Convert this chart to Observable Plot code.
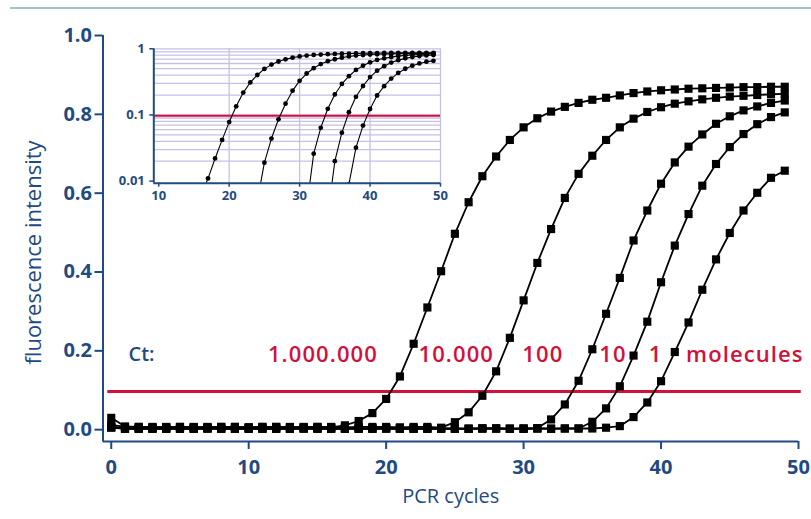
<!DOCTYPE html>
<html><head><meta charset="utf-8">
<script src="https://cdn.jsdelivr.net/npm/d3@7"></script>
<script src="https://cdn.jsdelivr.net/npm/@observablehq/plot@0.6"></script>
<style>
body{margin:0;background:#fff;}
#wrap{position:relative;width:811px;height:519px;overflow:hidden;background:#fff;}
#main{position:absolute;left:0;top:0;}
#inset{position:absolute;left:100px;top:30px;}
#topline{position:absolute;left:10px;top:7px;width:801px;height:2px;background:#9fc6ca;}
</style></head><body>
<div id="wrap"><div id="main"></div><div id="inset"></div><div id="topline"></div></div>
<script>
// PCR cycle numbers
const cycles = [0,1,2,3,4,5,6,7,8,9,10,11,12,13,14,15,16,17,18,19,20,21,22,23,24,25,26,27,28,29,30,31,32,33,34,35,36,37,38,39,40,41,42,43,44,45,46,47,48,49];
const seriesNames = ["1.000.000","10.000","100","10","1"];
// fluorescence intensity per cycle, one array per starting amount
const curve1 = [0.030,0.008,0.007,0.007,0.006,0.007,0.007,0.006,0.007,0.007,0.006,0.007,0.007,0.007,0.006,0.007,0.006,
  0.011,0.022,0.042,0.078,0.135,0.218,0.310,0.402,0.497,0.577,0.643,0.693,0.735,0.767,0.790,0.807,0.819,0.829,0.837,
  0.842,0.848,0.854,0.858,0.861,0.863,0.865,0.866,0.867,0.868,0.869,0.869,0.870,0.870];
const curve2 = [0.012,0.007,0.007,0.006,0.007,0.007,0.006,0.007,0.007,0.007,0.006,0.007,0.007,0.006,0.007,0.007,0.007,
  0.006,0.007,0.007,0.007,0.006,0.007,0.007,0.005,
  0.019,0.044,0.086,0.148,0.233,0.328,0.423,0.509,0.588,0.649,0.695,0.735,0.767,0.789,0.806,0.818,0.827,0.833,0.838,
  0.842,0.845,0.847,0.849,0.851,0.852];
const curve3 = [0.008,0.003,0.003,0.002,0.003,0.003,0.002,0.003,0.003,0.003,0.002,0.003,0.003,0.002,0.003,0.003,0.003,
  0.002,0.003,0.003,0.003,0.002,0.003,0.003,0.002,0.003,0.002,0.003,0.003,0.002,0.003,0.004,
  0.026,0.064,0.124,0.204,0.294,0.385,0.480,0.556,0.624,0.678,0.718,0.749,0.776,0.795,0.810,0.820,0.829,0.835];
const curve4 = [0.006,0.003,0.002,0.003,0.003,0.002,0.003,0.003,0.003,0.002,0.003,0.003,0.002,0.003,0.003,0.003,0.002,
  0.003,0.003,0.002,0.003,0.003,0.003,0.002,0.003,0.003,0.002,0.003,0.003,0.003,0.002,0.003,0.003,0.003,0.003,
  0.020,0.054,0.110,0.188,0.274,0.374,0.467,0.547,0.619,0.674,0.717,0.750,0.775,0.793,0.805];
const curve5 = [0.005,0.002,0.003,0.003,0.002,0.003,0.003,0.003,0.002,0.003,0.003,0.002,0.003,0.003,0.003,0.002,0.003,
  0.003,0.002,0.003,0.003,0.003,0.002,0.003,0.003,0.002,0.003,0.003,0.003,0.002,0.003,0.003,0.002,0.003,0.003,0.003,
  0.005,0.009,0.032,0.069,0.123,0.197,0.272,0.355,0.432,0.499,0.556,0.601,0.639,0.657];
const threshold = [0.097];
const labelTexts = ["1.000.000","10.000","100","10","1","molecules"];
const labelCycles = [15.4, 25.1, 31.4, 36.5, 39.6, 46.1];
const ctText = ["Ct:"];
const ctCycle = [2.2];
const yLabelText = ["fluorescence intensity"];
const xLabelText = ["PCR cycles"];
const yTicks = [0, 0.2, 0.4, 0.6, 0.8, 1.0];
const xTicks = [0, 10, 20, 30, 40, 50];
const insetXTicks = [10, 20, 30, 40, 50];
const insetYTicks = [0.01, 0.1, 1];
const insetGridY = [0.02,0.03,0.04,0.05,0.06,0.07,0.08,0.09,0.1,0.2,0.3,0.4,0.5,0.6,0.7,0.8,0.9,1];
const insetGridX = [20, 30, 40, 50];

const curves = [curve1, curve2, curve3, curve4, curve5];
const data = [];
curves.forEach((arr, s) => arr.forEach((v, i) => data.push({cycle: cycles[i], value: v, series: seriesNames[s]})));

const NAVY = "#1f4a82", RED = "#d2103c", FONT = "'Open Sans', sans-serif";
const labelY = 0.19;

const main = Plot.plot({
  width: 811, height: 519,
  marginLeft: 102.5, marginRight: 13, marginTop: 35, marginBottom: 78,
  style: {fontFamily: FONT, background: "transparent", overflow: "visible"},
  x: {domain: [-0.6, 50]},
  y: {domain: [-0.03, 1.0]},
  marks: [
    Plot.ruleY(threshold, {x1: -0.25, x2: 50.2, stroke: RED, strokeWidth: 3}),
    Plot.line(data, {x: "cycle", y: "value", z: "series", stroke: "#000", strokeWidth: 1.8}),
    Plot.dot(data, {x: "cycle", y: "value", symbol: "square", r: 4.6, fill: "#000"}),
    Plot.ruleX([-0.6], {y1: -0.03, y2: 1.0, stroke: NAVY, strokeWidth: 2}),
    Plot.ruleY([-0.03], {x1: -0.6, x2: 50, stroke: NAVY, strokeWidth: 2}),
    Plot.axisY({ticks: yTicks, tickFormat: d3.format(".1f"), tickSize: 8, tickPadding: 3, fontSize: 20, fontWeight: 700, color: NAVY, strokeWidth: 2, label: null}),
    Plot.axisX({ticks: xTicks, tickSize: 8, tickPadding: 10, fontSize: 20, fontWeight: 700, color: NAVY, strokeWidth: 2, label: null}),
    Plot.text(yLabelText, {frameAnchor: "left", textAnchor: "middle", dx: -69, dy: 14, rotate: -90, fontSize: 22, fontWeight: 500, fill: NAVY}),
    Plot.text(xLabelText, {frameAnchor: "bottom", textAnchor: "middle", dy: 61, fontSize: 20, fontWeight: 500, fill: NAVY}),
    Plot.text(ctText, {x: ctCycle, y: [labelY], fontSize: 20, fontWeight: 600, fill: NAVY}),
    Plot.text(labelTexts, {x: labelCycles, y: labelTexts.map(() => labelY), fontSize: 22, fontWeight: 600, fill: RED})
  ]
});
main.querySelectorAll("text").forEach(t => {
  if (t.getAttribute("fill") === RED || (t.parentNode && t.parentNode.getAttribute && t.parentNode.getAttribute("fill") === RED)) t.style.letterSpacing = "1.1px";
});
document.getElementById("main").append(main);

const inset = Plot.plot({
  width: 350, height: 180,
  marginLeft: 53.3, marginRight: 10, marginTop: 18.3, marginBottom: 27.3,
  style: {fontFamily: FONT, background: "transparent", overflow: "visible"},
  x: {domain: [9.3, 50]},
  y: {type: "log", domain: [0.0093, 1]},
  marks: [
    Plot.gridY(insetGridY, {stroke: "#c6c1e4", strokeOpacity: 1, strokeWidth: 1.3}),
    Plot.gridX(insetGridX, {stroke: "#c6c1e4", strokeOpacity: 1, strokeWidth: 1.3}),
    Plot.ruleY(threshold, {x1: 9.3, x2: 50, stroke: RED, strokeWidth: 2}),
    Plot.line(data, {x: "cycle", y: "value", z: "series", stroke: "#000", strokeWidth: 1.1, clip: true}),
    Plot.dot(data, {x: "cycle", y: "value", r: 2.4, fill: "#000", clip: true}),
    Plot.ruleX([9.3], {stroke: NAVY, strokeWidth: 2}),
    Plot.ruleY([0.0093], {stroke: NAVY, strokeWidth: 2}),
    Plot.axisX({ticks: insetXTicks, tickSize: 4, tickPadding: 4, fontSize: 13, fontWeight: 700, color: NAVY, strokeWidth: 1.5, label: null}),
    Plot.axisY({ticks: insetYTicks, tickSize: 4, tickPadding: 5, tickFormat: d => String(d), fontSize: 13, fontWeight: 700, color: NAVY, strokeWidth: 1.5, label: null})
  ]
});
document.getElementById("inset").append(inset);
</script>
</body></html>
